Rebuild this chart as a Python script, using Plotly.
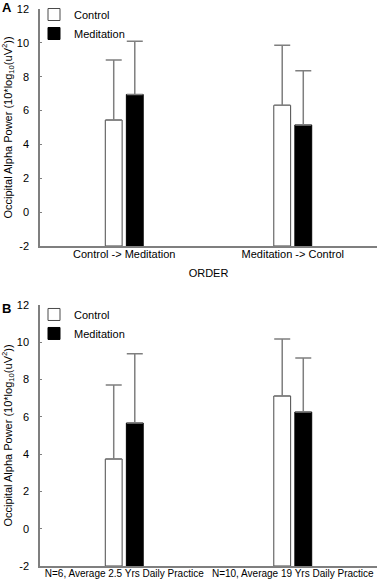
import plotly.graph_objects as go

# ---- data ----
series_names = ["Control", "Meditation"]
cats_a = ["Control -> Meditation", "Meditation -> Control"]
control_a = [5.44, 6.31]
control_a_err = [3.55, 3.55]
meditation_a = [6.95, 5.15]
meditation_a_err = [3.14, 3.20]

cats_b = ["N=6, Average 2.5 Yrs Daily Practice", "N=10, Average 19 Yrs Daily Practice"]
control_b = [3.74, 7.12]
control_b_err = [3.97, 3.06]
meditation_b = [5.67, 6.26]
meditation_b_err = [3.71, 2.90]

y_ticks = [-2, 0, 2, 4, 6, 8, 10, 12]
y_ticktext = ["-2", "0", "2", "4", "6", "8", "10", "12"]
y_floor = -2  # bars are drawn up from the bottom of the value axis
ytitle = "Occipital Alpha Power (10*log<sub>10</sub>(uV<sup>2</sup>))"

FONT = "Liberation Sans, Arial, sans-serif"
AXIS_GRAY = "#7f7f7f"

fig = go.Figure()


def add_bar(cats, vals, errs, name, fill, outline, xa, ya, legend):
    fig.add_trace(go.Bar(
        x=cats, y=[v - y_floor for v in vals], base=y_floor, name=name,
        xaxis=xa, yaxis=ya, legend=legend, showlegend=True,
        customdata=vals, hovertemplate="%{customdata}<extra>" + name + "</extra>",
        marker=dict(color=fill, line=dict(color=outline, width=1)),
        error_y=dict(type="data", symmetric=False, array=errs,
                     arrayminus=[0] * len(vals), color=AXIS_GRAY, thickness=1.5, width=8),
    ))


add_bar(cats_a, control_a, control_a_err, series_names[0], "white", "#4a4a4a", "x", "y", "legend")
add_bar(cats_a, meditation_a, meditation_a_err, series_names[1], "black", "black", "x", "y", "legend")
add_bar(cats_b, control_b, control_b_err, series_names[0], "white", "#4a4a4a", "x2", "y2", "legend2")
add_bar(cats_b, meditation_b, meditation_b_err, series_names[1], "black", "black", "x2", "y2", "legend2")

xcommon = dict(type="category", range=[-0.5, 1.5], showline=True, linecolor=AXIS_GRAY,
               linewidth=1.5, ticks="", showgrid=False, zeroline=False, automargin=False,
               tickangle=0, ticklabelstandoff=-3)
ycommon = dict(range=[-2, 12], tickvals=y_ticks, ticktext=y_ticktext, showline=True,
               linecolor=AXIS_GRAY, linewidth=1.5, ticks="inside", ticklen=2,
               tickcolor=AXIS_GRAY, showgrid=False, zeroline=False, ticklabelstandoff=7,
               automargin=False,
               tickfont=dict(family=FONT, size=11, color="black"),
               title=dict(text=ytitle, font=dict(family=FONT, size=11, color="black"),
                          standoff=22))

legend_style = dict(xanchor="left", yanchor="top",
                    bgcolor="rgba(0,0,0,0)", font=dict(family=FONT, size=11, color="black"),
                    tracegroupgap=0, itemwidth=30)

fig.update_layout(
    width=388, height=582,
    margin=dict(l=40, r=11, t=0, b=16),
    paper_bgcolor="white", plot_bgcolor="white",
    barmode="group", bargap=0.75, bargroupgap=0.2,
    font=dict(family=FONT, size=11, color="black"),
    xaxis=dict(xcommon, anchor="y", domain=[0, 1],
               tickfont=dict(family=FONT, size=11, color="black"),
               title=dict(text="ORDER", font=dict(family=FONT, size=11, color="black"),
                          standoff=10)),
    yaxis=dict(ycommon, anchor="x", domain=[0.5654, 0.9841]),
    xaxis2=dict(xcommon, anchor="y2", domain=[0, 1],
                tickfont=dict(family=FONT, size=10, color="black")),
    yaxis2=dict(ycommon, anchor="x2", domain=[0.0, 0.4611]),
    legend=dict(legend_style, x=-0.0178, y=1.0),
    legend2=dict(legend_style, x=-0.0178, y=0.4700),
    annotations=[
        dict(text="<b>A</b>", xref="paper", yref="paper", x=-0.1187, y=0.9859, xanchor="left",
             yanchor="middle", showarrow=False, font=dict(family=FONT, size=13, color="black")),
        dict(text="<b>B</b>", xref="paper", yref="paper", x=-0.1187, y=0.4558, xanchor="left",
             yanchor="middle", showarrow=False, font=dict(family=FONT, size=13, color="black")),
    ],
)

fig.write_html("out.html", config={"displayModeBar": False},
               post_script="document.body.style.margin='0px';")
